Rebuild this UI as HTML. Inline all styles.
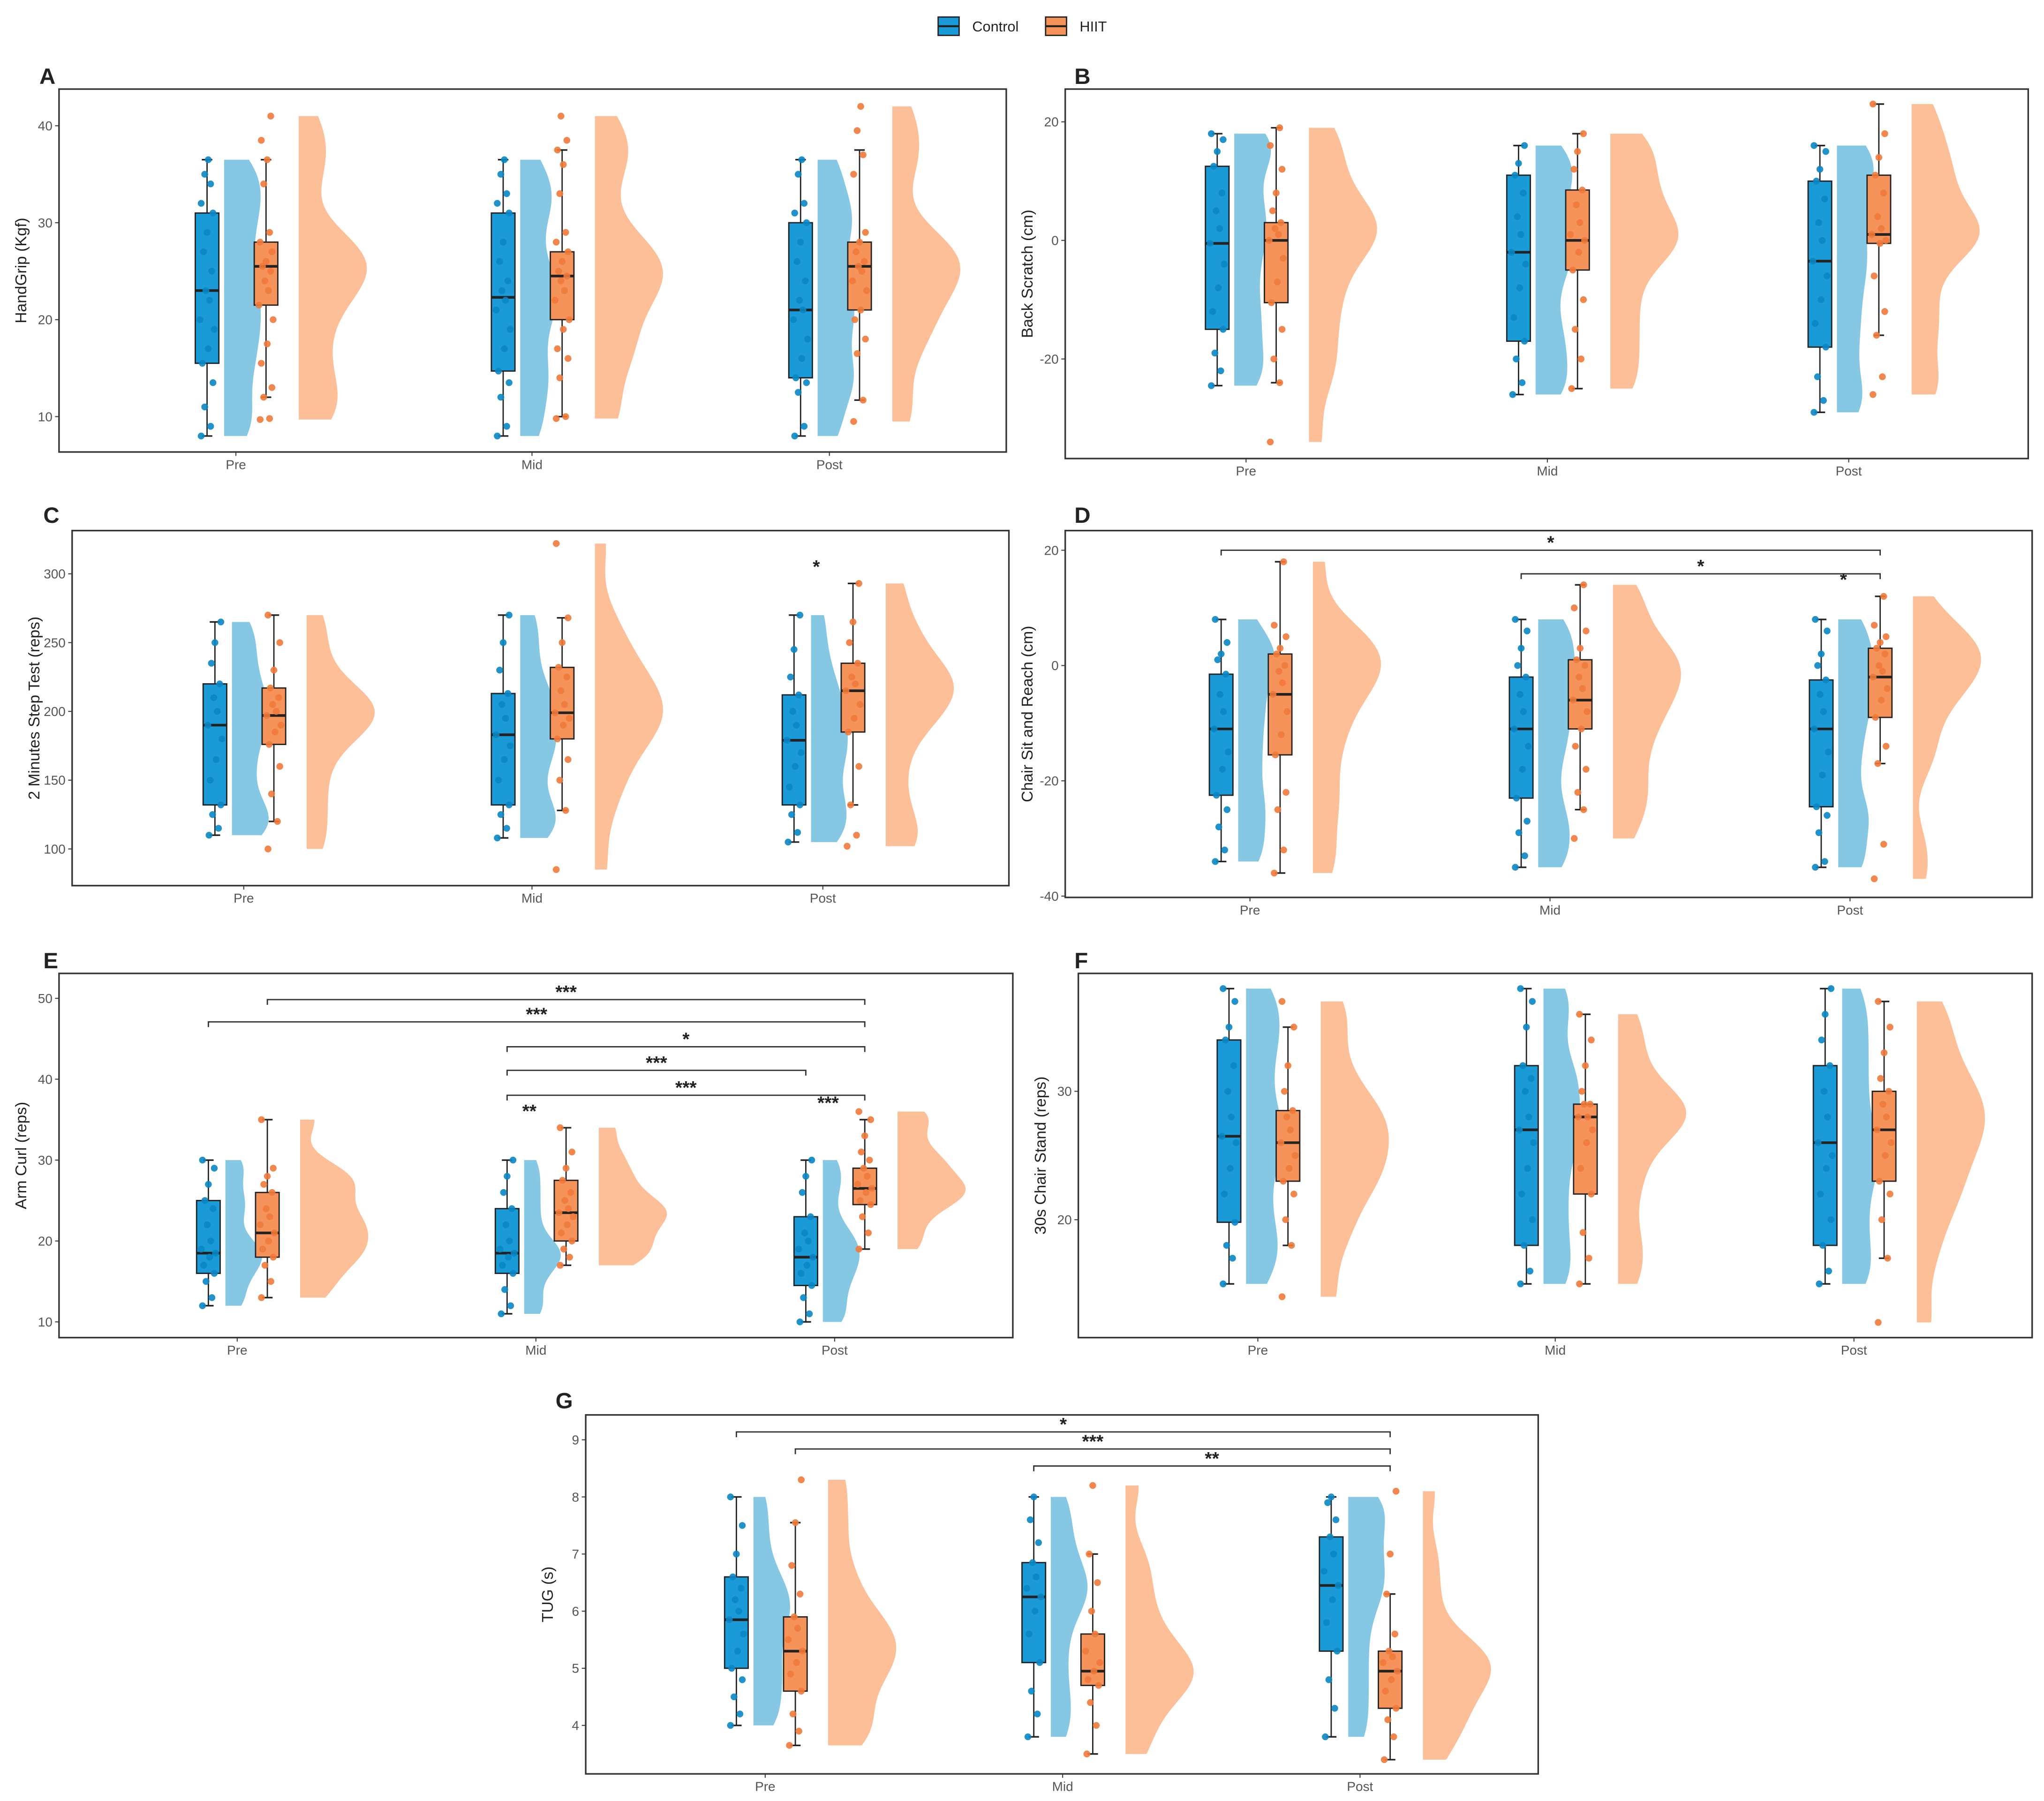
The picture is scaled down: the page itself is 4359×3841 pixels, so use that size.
<!DOCTYPE html>
<html><head><meta charset="utf-8"><style>
html,body{margin:0;padding:0;background:#fff}
svg{display:block;font-family:"Liberation Sans",sans-serif}
</style></head><body>
<svg id="fig" width="4359" height="3841" viewBox="0 0 1560 1374.7" xmlns="http://www.w3.org/2000/svg">
<g>
<g>
<rect x="716" y="13" width="16" height="14" fill="#1a9ad6" stroke="#222" stroke-width="1"/>
<line x1="716" y1="20" x2="732" y2="20" stroke="#222" stroke-width="1.5"/>
<text x="742" y="24" font-size="11" fill="#222">Control</text></g>
<g>
<rect x="798" y="13" width="16" height="14" fill="#f5935a" stroke="#222" stroke-width="1"/>
<line x1="798" y1="20" x2="814" y2="20" stroke="#222" stroke-width="1.5"/>
<text x="824" y="24" font-size="11" fill="#222">HIIT</text></g>
</g>
</svg>
<script>
const categories = ["Pre","Mid","Post"];
// [min, q1, median, q3, max] per timepoint
const aCtrl = [[8,15.5,23,31,36.5],[8,14.7,22.3,31,36.5],[8,14,21,30,36.5]];
const aHiit = [[12,21.5,25.5,28,36.5],[10,20,24.5,27,37.5],[11.7,21,25.5,28,37.5]];
const aCtrlPts = [[8,9,11,13.5,15.5,17,19,20,22,23,25,27,29,31,32,34,35,36.5],[8,9,12,13.5,14.7,17,19,21,22,23,24,26,28,31,32,33,35,36.5],[8,9,12.5,13.5,14,16,18,20,21,22,24,26,28,30,31,32,35,36.5]];
const aHiitPts = [[9.7,9.8,12,13,15.5,17.5,20,21.5,23,24,25,25.5,26,27,28,29,34,36.5,38.5,41],[9.8,10,14,16,17,19,20,22,23,24,24.5,25,26,27,28,29,33,36,37.5,38.5,41],[9.5,11.7,16.5,18,20,21,23,24,25,25.5,26,27,28,29,35,37,39.5,42]];
const bCtrl = [[-24.5,-15,-0.5,12.5,18],[-26,-17,-2,11,16],[-29,-18,-3.5,10,16]];
const bHiit = [[-24,-10.5,0,3,19],[-25,-5,0,8.5,18],[-16,-0.5,1,11,23]];
const bCtrlPts = [[-24.5,-22,-19,-15,-12,-8,-4,-0.5,2,5,8,12.5,15,17,18],[-26,-24,-20,-17,-13,-8,-4,-2,1,4,8,11,13,16],[-29,-27,-23,-18,-14,-10,-6,-3.5,0,3,7,10,12,15,16]];
const bHiitPts = [[-34,-24,-20,-15,-10.5,-7,-3,0,1,2,3,5,8,12,16,19],[-25,-20,-15,-10,-5,-2,0,1,3,6,8.5,12,15,18],[-26,-23,-16,-12,-6,-0.5,0,1,2,4,8,11,14,18,23]];
const cCtrl = [[110,132,190,220,265],[108,132,183,213,270],[105,132,179,212,270]];
const cHiit = [[120,176,197,217,270],[128,180,199,232,268],[132,185,215,235,293]];
const cCtrlPts = [[110,115,125,132,150,165,180,190,200,210,220,235,250,265],[108,115,125,132,150,165,175,183,195,205,213,230,250,270],[105,112,125,132,145,160,170,179,190,200,212,225,245,270]];
const cHiitPts = [[100,120,140,160,176,185,190,197,200,205,210,217,230,250,270],[85,128,150,165,180,190,195,199,205,215,225,232,250,268,322],[102,110,132,160,185,195,205,215,220,225,235,250,265,293]];
const dCtrl = [[-34,-22.5,-11,-1.5,8],[-35,-23,-11,-2,8],[-35,-24.5,-11,-2.5,8]];
const dHiit = [[-36,-15.5,-5,2,18],[-25,-11,-6,1,14],[-17,-9,-2,3,12]];
const dCtrlPts = [[-34,-32,-28,-25,-22.5,-18,-15,-11,-8,-5,-1.5,1,2,4,8],[-35,-33,-29,-27,-23,-18,-14,-11,-8,-5,-2,0,3,6,8],[-35,-34,-29,-26,-24.5,-19,-15,-11,-8,-5,-2.5,0,2,6,8]];
const dHiitPts = [[-36,-32,-25,-22,-15.5,-12,-8,-5,-3,-1,0,2,3,5,7,18],[-30,-25,-22,-18,-14,-11,-8,-6,-4,-2,0,1,3,6,10,14],[-37,-31,-17,-14,-9,-6,-4,-2,-1,0,2,3,4,5,7,12]];
const eCtrl = [[12,16,18.5,25,30],[11,16,18.5,24,30],[10,14.5,18,23,30]];
const eHiit = [[13,18,21,26,35],[17,20,23.5,27.5,34],[19,24.5,26.5,29,35]];
const eCtrlPts = [[12,13,15,16,17,18,18.5,19,20,22,24,25,27,29,30],[11,12,14,16,17,18,18.5,19,20,22,24,26,28,30],[10,11,13,14.5,16,17,18,19,20,21,23,26,28,30]];
const eHiitPts = [[13,15,17,18,19,20,21,22,23,24,26,27,28,29,35],[17,18,19,20,21,22,23,23.5,24,25,26,27.5,29,31,34],[19,21,23,24.5,25,26,26.5,27,28,29,30,31,33,35,36]];
const fCtrl = [[15,19.8,26.5,34,38],[15,18,27,32,38],[15,18,26,32,38]];
const fHiit = [[18,23,26,28.5,35],[15,22,28,29,36],[17,23,27,30,37]];
const fCtrlPts = [[15,17,18,19.8,22,24,26,26.5,28,30,32,34,35,37,38],[15,16,18,20,22,24,26,27,28,30,31,32,35,37,38],[15,16,18,20,22,24,25,26,28,30,32,34,36,38]];
const fHiitPts = [[14,18,20,22,23,24,25,26,27,28,28.5,30,32,35,37],[15,17,19,22,24,26,27,28,28,29,29,30,32,34,36],[12,17,20,22,23,25,26,27,28,29,30,31,33,35,37]];
const gCtrl = [[4,5,5.85,6.6,8],[3.8,5.1,6.25,6.85,8],[3.8,5.3,6.45,7.3,8]];
const gHiit = [[3.65,4.6,5.3,5.9,7.55],[3.5,4.7,4.95,5.6,7],[3.4,4.3,4.95,5.3,6.3]];
const gCtrlPts = [[4,4.2,4.5,4.8,5,5.3,5.6,5.85,6,6.2,6.4,6.6,7,7.5,8],[3.8,4.2,4.6,5.1,5.6,6,6.25,6.4,6.6,6.85,7.2,7.6,8],[3.8,4.3,4.8,5.3,5.8,6.2,6.45,6.7,7,7.3,7.6,7.9,8]];
const gHiitPts = [[3.65,3.9,4.2,4.6,4.9,5.1,5.3,5.5,5.7,5.9,6.3,6.8,7.55,8.3],[3.5,4,4.4,4.7,4.8,4.95,5.1,5.3,5.6,6,6.5,7,8.2],[3.4,3.8,4.1,4.3,4.6,4.8,4.95,5.1,5.2,5.3,5.6,6.3,7,8.1]];
const aTicks=[10,20,30,40], bTicks=[-20,0,20], cTicks=[100,150,200,250,300], dTicks=[-40,-20,0,20], eTicks=[10,20,30,40,50], fTicks=[20,30], gTicks=[4,5,6,7,8,9];
// brackets: [fromCat, fromGroup(0 ctrl,1 hiit), toCat, toGroup, label]
const dBrackets=[[0,0,2,1,"*"],[1,0,2,1,"*"]];
const eBrackets=[[0,1,2,1,"***"],[0,0,2,1,"***"],[1,0,2,1,"*"],[1,0,2,0,"***"],[1,0,2,1,"***"]];
const gBrackets=[[0,0,2,1,"*"],[0,1,2,1,"***"],[1,0,2,1,"**"]];
const cStars=[[2,1,"*"]], dStars=[[2,1,"*"]], eStars=[[1,1,"**"],[2,1,"***"]];

const panels=[
 {id:"A",letter:[30,64],box:[45,68,768,345],v:[10,318,40,96],cats:[180,406,633],ctrl:aCtrl,hiit:aHiit,cp:aCtrlPts,hp:aHiitPts,ticks:aTicks,title:"HandGrip (Kgf)",catY:358,br:[],stars:[]},
 {id:"B",letter:[820,64],box:[813,68,1548,350],v:[-20,274,20,93],cats:[951,1181,1411],ctrl:bCtrl,hiit:bHiit,cp:bCtrlPts,hp:bHiitPts,ticks:bTicks,title:"Back Scratch (cm)",catY:363,br:[],stars:[]},
 {id:"C",letter:[33,399],box:[55,405,770,676],v:[100,648,300,438],cats:[186,406,628],ctrl:cCtrl,hiit:cHiit,cp:cCtrlPts,hp:cHiitPts,ticks:cTicks,title:"2 Minutes Step Test (reps)",catY:689,br:[],stars:cStars},
 {id:"D",letter:[820,399],box:[813,405,1551,685],v:[-40,684,20,420],cats:[954,1183,1412],ctrl:dCtrl,hiit:dHiit,cp:dCtrlPts,hp:dHiitPts,ticks:dTicks,title:"Chair Sit and Reach (cm)",catY:698,br:dBrackets,brY:[420,438],stars:dStars},
 {id:"E",letter:[33,739],box:[45,743,773,1021],v:[10,1009,50,762],cats:[181,409,637],ctrl:eCtrl,hiit:eHiit,cp:eCtrlPts,hp:eHiitPts,ticks:eTicks,title:"Arm Curl (reps)",catY:1034,br:eBrackets,brY:[763,780,799,817,836],stars:eStars},
 {id:"F",letter:[820,739],box:[823,743,1551,1021],v:[20,931,30,833],cats:[960,1187,1415],ctrl:fCtrl,hiit:fHiit,cp:fCtrlPts,hp:fHiitPts,ticks:fTicks,title:"30s Chair Stand (reps)",catY:1034,br:[],stars:[]},
 {id:"G",letter:[424,1075],box:[447,1080,1174,1354],v:[4,1317,9,1099],cats:[584,811,1038],ctrl:gCtrl,hiit:gHiit,cp:gCtrlPts,hp:gHiitPts,ticks:gTicks,title:"TUG (s)",catY:1367,br:gBrackets,brY:[1093,1106,1119],stars:[]}
];
const NS="http://www.w3.org/2000/svg";
const svg=document.getElementById("fig");
function mk(tag,attrs,parent){const e=document.createElementNS(NS,tag);for(const k in attrs)e.setAttribute(k,attrs[k]);parent.appendChild(e);return e;}
const jit=[-5,3,-2,5,-4,1,6,-6,2,-1,4,-3,0,5,-5,3,-2,1,-4,4,-1,2];
const C={box:"#1a9ad6",dot:"#0a86c4",vio:"#86c8e4"}, H={box:"#f5935a",dot:"#f07a3a",vio:"#fdbf98"};
function kde(pts,y0,y1,n){const bw=(Math.max(...pts)-Math.min(...pts))*0.09||1;const out=[];for(let i=0;i<=n;i++){const y=y0+(y1-y0)*i/n;let s=0;for(const p of pts){const u=(y-p)/bw;s+=Math.exp(-0.5*u*u);}out.push([y,s]);}const m=Math.max(...out.map(o=>o[1]));return out.map(o=>[o[0],o[1]/m]);}
panels.forEach(P=>{
 const g=mk("g",{},svg);
 
 
 const Y=v=>P.v[1]+(v-P.v[0])*(P.v[3]-P.v[1])/(P.v[2]-P.v[0]);
 const lt=mk("text",{x:P.letter[0],y:P.letter[1],"font-size":17,"font-weight":"bold",fill:"#222"},g);lt.textContent=P.id;
 
 
 const [x0,y0,x1,y1]=P.box;
 // axis ticks
 P.ticks.forEach(t=>{const y=Y(t);mk("line",{x1:x0-3,x2:x0,y1:y,y2:y,stroke:"#444","stroke-width":0.8},g);
  const tx=mk("text",{x:x0-5,y:y+3.5,"font-size":10,fill:"#555","text-anchor":"end"},g);tx.textContent=t;
  
  });
 const yt=mk("text",{x:0,y:0,"font-size":12,fill:"#222","text-anchor":"middle",transform:`translate(${x0-25},${(y0+y1)/2}) rotate(-90)`},g);yt.textContent=P.title;
 
 
 P.cats.forEach((cx,i)=>{
  mk("line",{x1:cx,x2:cx,y1:y1,y2:y1+3,stroke:"#444","stroke-width":0.8},g);
  const ct=mk("text",{x:cx,y:P.catY,"font-size":10,fill:"#555","text-anchor":"middle"},g);ct.textContent=categories[i];
  
  
  [[P.ctrl[i],P.cp[i],C,-22,-9,28,"control"],[P.hiit[i],P.hp[i],H,23,48,52,"hiit"]].forEach(([st,pts,col,bo,vo,vw,nm])=>{
   // violin
   const lo=Math.min(...pts),hi=Math.max(...pts);const d=kde(pts,lo,hi,60);
   let path=`M${cx+vo},${Y(lo)}`;d.forEach(([y,w])=>{path+=` L${cx+vo+w*vw},${Y(y)}`;});path+=` L${cx+vo},${Y(hi)} Z`;
   const vp=mk("path",{d:path,fill:col.vio},g);
   
   
   const bx=cx+bo;
   mk("line",{x1:bx,x2:bx,y1:Y(st[0]),y2:Y(st[4]),stroke:"#222","stroke-width":1},g);
   mk("line",{x1:bx-4,x2:bx+4,y1:Y(st[0]),y2:Y(st[0]),stroke:"#222","stroke-width":1.2},g);
   mk("line",{x1:bx-4,x2:bx+4,y1:Y(st[4]),y2:Y(st[4]),stroke:"#222","stroke-width":1.2},g);
   const r=mk("rect",{x:bx-9,y:Y(st[3]),width:18,height:Y(st[1])-Y(st[3]),fill:col.box,stroke:"#222","stroke-width":1},g);
   
   
   mk("line",{x1:bx-9,x2:bx+9,y1:Y(st[2]),y2:Y(st[2]),stroke:"#222","stroke-width":2},g);
   pts.forEach((p,k)=>{const c=mk("circle",{cx:bx+jit[k%jit.length]*0.9,cy:Y(p),r:2.6,fill:col.dot,opacity:0.9},g);
    
    });
  });
 });
 mk("rect",{x:x0,y:y0,width:x1-x0,height:y1-y0,fill:"none",stroke:"#333","stroke-width":1.2},g);
 (P.br||[]).forEach((b,k)=>{const xa=P.cats[b[0]]+(b[1]?23:-22),xb=P.cats[b[2]]+(b[3]?23:-22),y=P.brY[k];
  const pl=mk("path",{d:`M${xa},${y+4} L${xa},${y} L${xb},${y} L${xb},${y+4}`,fill:"none",stroke:"#333","stroke-width":1},g);
  
  
  const st=mk("text",{x:(xa+xb)/2,y:y-1,"font-size":14,"font-weight":"bold",fill:"#222","text-anchor":"middle"},g);st.textContent=b[4];
  
  });
 (P.stars||[]).forEach(s=>{const st0=(s[1]?P.hiit:P.ctrl)[s[0]];const x=P.cats[s[0]]+(s[1]?23:-22)-28*(s[2].length>1?0:0)-(s[2]==="*"?28:28);
  const st=mk("text",{x:x,y:Y(st0[4])-8,"font-size":14,"font-weight":"bold",fill:"#222","text-anchor":"middle"},g);st.textContent=s[2];
  
  });
});
</script>
</body></html>
